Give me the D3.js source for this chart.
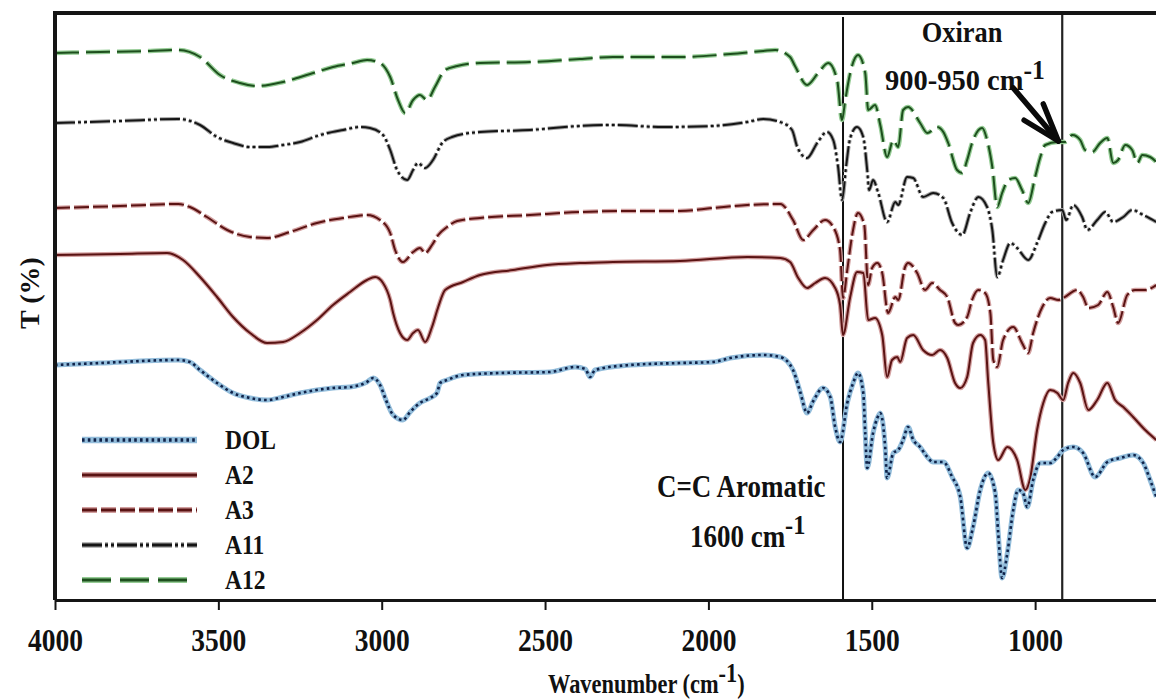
<!DOCTYPE html>
<html>
<head>
<meta charset="utf-8">
<script src="https://cdn.jsdelivr.net/npm/d3@7"></script>
<style>
  body { margin: 0; background: #fff; }
  svg { display: block; }
  svg text { font-family: "Liberation Serif", "Times New Roman", Times, "DejaVu Serif", serif; }
</style>
</head>
<body>
<div id="chart"></div>
<script>
// FTIR spectra, wavenumber (cm-1) vs transmittance (offset, arbitrary %)
const dolWn = [4000,3862,3623,3587,3556,3504,3455,3403,3351,3302,3250,3149,3097,3045,3026,3005,2987,2965,2935,2913,2883,2852,2831,2821,2800,2751,2638,2485,2408,2377,2362,2347,2240,2087,1986,1933,1832,1780,1741,1719,1698,1679,1649,1627,1612,1597,1575,1557,1542,1526,1520,1514,1496,1483,1474,1459,1453,1434,1419,1404,1389,1373,1352,1330,1312,1281,1254,1229,1208,1190,1168,1144,1122,1113,1101,1085,1067,1052,1037,1024,1006,984,954,932,914,883,853,816,779,739,700,669,648,629];
const dolT = [47,47.4,48,47.6,46,43.4,41.4,40.4,40,40.6,41.4,42.4,42.6,43.6,44.4,43,40,37,36,37.6,39.4,40.4,41.4,43.4,44,45,45.4,45.6,46.6,46.2,44.6,46,47,47.4,47.6,48.4,49,48.6,46,41.6,37.4,39.8,42.4,40.6,34.6,31.6,39.4,43.4,45.4,41.4,33.4,26.4,33.4,36.4,37.4,30.6,24.4,29.4,30,32,34.6,32,30.6,28.6,27.6,27.6,24.6,20.6,10.4,14.6,22,25.4,21.4,13.4,4.4,9.4,18,22,21.4,18.6,24,27.4,27.4,28.6,30,30.6,29.4,24.6,27.6,28.4,29,27.4,24,20.6];

const a2Wn = [4000,3801,3657,3608,3556,3504,3455,3403,3351,3302,3250,3198,3149,3097,3045,3020,2996,2974,2965,2944,2922,2904,2889,2867,2846,2827,2806,2751,2699,2598,2494,2393,2292,2087,1881,1780,1750,1725,1698,1673,1643,1612,1597,1588,1566,1545,1526,1511,1490,1468,1453,1438,1422,1413,1392,1373,1343,1315,1291,1269,1245,1229,1208,1190,1168,1153,1144,1128,1113,1085,1055,1030,1015,994,975,954,932,914,899,883,862,837,810,779,755,730,700,663,629];
const a2T = [69,69.2,69.4,68,64.6,60.6,56.6,53.4,51.4,51.6,53.4,56,59,61.6,64,64.6,63.4,60,57.4,53.4,52,53.4,54,51.6,54.6,58.6,62,63.6,65,66,67,67.4,67.6,67.8,68.6,68.4,67.6,64.4,62.4,63.4,64.4,62.4,59,53,60.6,65.6,65.4,56,56.4,53,44.6,48,48.6,47.6,52.4,53,50,49,50,48.4,43.4,42.4,44.6,51.4,53,52,44,31.4,28,30.6,28,22,24.4,34,39.4,42,41.4,40,43.4,45.4,43.4,38,40,43.4,40,38.6,36.6,34,32];

const a3Wn = [4000,3801,3623,3587,3535,3473,3403,3351,3281,3198,3118,3045,3005,2974,2959,2935,2904,2883,2867,2846,2827,2800,2769,2699,2546,2393,2240,2087,1986,1881,1780,1741,1710,1679,1643,1618,1597,1588,1575,1560,1542,1523,1511,1499,1483,1468,1450,1428,1419,1398,1389,1361,1337,1315,1291,1269,1245,1235,1208,1193,1174,1153,1137,1128,1116,1098,1067,1040,1021,1006,978,954,929,914,871,853,837,807,779,761,746,718,694,663,629];
const a3T = [78.4,78.8,79.2,78.6,76.6,74,72.6,72.4,73.6,75.4,76.4,77,76,73.4,70,67.6,69.6,70.4,69.4,71,73,74.6,75.8,76.4,77,77.6,77.8,77.8,78.4,79,79.2,76,72,74,76,74.6,70,60.4,66,73,77.4,75,63,66.4,67.4,65.4,57.4,60.6,60,66.6,67.4,65.4,62,63.4,62,60.6,55.4,55,56.6,60,62,61.4,57.4,48,46.6,52,54.6,51.4,49.4,53.4,58.6,60.4,60,60.4,62,60.6,58.4,59,61.6,58.6,55.4,61,62,62,63];

const a11Wn = [4000,3801,3623,3556,3504,3455,3403,3351,3302,3250,3189,3118,3066,3036,2996,2974,2953,2922,2904,2889,2867,2843,2815,2785,2699,2546,2393,2292,2139,1986,1881,1832,1780,1744,1728,1698,1667,1637,1618,1603,1591,1578,1566,1545,1526,1514,1508,1496,1480,1453,1428,1419,1392,1373,1343,1312,1281,1254,1223,1199,1174,1147,1131,1116,1098,1076,1055,1021,994,969,948,917,905,883,856,840,810,785,761,730,703,669,629];
const a11T = [95.4,95.8,96.2,95,92.6,91.4,90.6,90.6,91,91.6,93,94,94.6,94.4,93,90,86,84,86,87.4,86.4,88,91.4,92.6,93.6,94,94.8,95,94.6,94.8,95.6,96.2,95.6,94,90.6,88.4,91.4,93.6,92,86.6,80,87,92.4,94.6,92.6,86,82,84,81.4,75.6,79.6,79,84.6,84.4,80.6,81.4,80.4,75.4,73,77.4,80.6,78.6,74,64.6,68,71.4,70.4,68,71.4,75.4,77.6,78,76,79,76.6,74,76,77.6,75.6,76.6,78,77,75.6];

const a12Wn = [4000,3862,3709,3623,3556,3495,3434,3379,3302,3219,3149,3088,3045,3005,2974,2950,2928,2904,2883,2861,2837,2806,2769,2699,2546,2393,2292,2087,1933,1832,1796,1750,1735,1698,1664,1633,1606,1591,1581,1566,1542,1520,1511,1490,1474,1453,1434,1419,1404,1389,1352,1330,1300,1281,1266,1239,1223,1208,1193,1162,1147,1131,1116,1101,1082,1061,1040,1021,1000,984,969,932,908,886,862,847,825,801,779,761,746,724,703,687,672,648,629];
const a12T = [109.4,109.6,109.8,110,108.6,105,103.4,102.8,103.6,105.2,106.6,107.4,108,107.4,104.6,100,97.4,100,101,100,102.6,106,106.8,107.4,107.6,108.2,108.6,108.6,109.2,109.8,110,108.6,106.8,103,105.4,107.4,104,96,100,105.4,109,105.4,98,99,95,88.6,92,90.6,98,98.6,95.4,93.4,94.6,93.6,91.4,86,85.4,88,91.4,94.4,92,86.6,78.6,81.4,84,84.4,82,79.4,84.6,88.6,91,91.6,91.6,93,92,90,89.6,91.4,92.4,87.4,88,91,90,87.4,89,88.6,87.6];

const seriesNames = ['DOL', 'A2', 'A3', 'A11', 'A12'];
const xTicks = [4000, 3500, 3000, 2500, 2000, 1500, 1000];
const markerWn = [1588, 917];

const series = [
    { name: 'DOL', values: d3.zip(dolWn, dolT) },
    { name: 'A2', values: d3.zip(a2Wn, a2T) },
    { name: 'A3', values: d3.zip(a3Wn, a3T) },
    { name: 'A11', values: d3.zip(a11Wn, a11T) },
    { name: 'A12', values: d3.zip(a12Wn, a12T) }
];

// line looks: light halo under a darker core
const styles = {
    DOL: { halo: '#93bddb', haloW: 5, haloDash: null, core: '#0f2249', coreW: 2.6, dash: '2.6,3.2' },
    A2:  { halo: '#d4a2a2', haloW: 4.5, haloDash: null, core: '#5a1313', coreW: 2, dash: null },
    A3:  { halo: '#d2a0a0', haloW: 4.5, haloDash: '15,4', core: '#5a1313', coreW: 2, dash: '15,4' },
    A11: { halo: '#a3a3a3', haloW: 4, haloDash: '20,3,3,3,3,3', core: '#151515', coreW: 2, dash: '20,3,3,3,3,3' },
    A12: { halo: '#95cc95', haloW: 4.5, haloDash: '24,7', core: '#1d4f1d', coreW: 2, dash: '24,7' }
};

const width = 1156, height = 700;

const x = d3.scaleLinear().domain([4000, 630]).range([55, 1156]);
const y = d3.scaleLinear().domain([0, 117.4]).range([600, 13]);

const svg = d3.select('#chart').append('svg')
    .attr('width', width)
    .attr('height', height);

svg.append('clipPath').attr('id', 'plot-clip')
    .append('rect')
    .attr('x', x(4000)).attr('y', y(117.4))
    .attr('width', x(630) - x(4000)).attr('height', y(0) - y(117.4));

// marker lines for C=C aromatic and oxiran
svg.append('line')
    .attr('x1', x(markerWn[0])).attr('x2', x(markerWn[0]))
    .attr('y1', 17).attr('y2', y(0))
    .attr('stroke', '#111').attr('stroke-width', 2);
svg.append('line')
    .attr('x1', x(markerWn[1])).attr('x2', x(markerWn[1]))
    .attr('y1', y(117.4)).attr('y2', y(0))
    .attr('stroke', '#222').attr('stroke-width', 2.2);

const line = d3.line()
    .x(d => x(d[0]))
    .y(d => y(d[1]))
    .curve(d3.curveMonotoneX);

const plot = svg.append('g').attr('clip-path', 'url(#plot-clip)');

// draw back to front
series.slice().reverse().forEach(s => {
    const st = styles[s.name];
    plot.append('path')
        .datum(s.values)
        .attr('fill', 'none')
        .attr('stroke', st.halo)
        .attr('stroke-width', st.haloW)
        .attr('stroke-dasharray', st.haloDash)
        .attr('stroke-linejoin', 'round')
        .attr('d', line);
    plot.append('path')
        .datum(s.values)
        .attr('fill', 'none')
        .attr('stroke', st.core)
        .attr('stroke-width', st.coreW)
        .attr('stroke-dasharray', st.dash)
        .attr('stroke-linejoin', 'round')
        .attr('d', line);
});

// frame: top and left
svg.append('line')
    .attr('x1', x(4000) - 2).attr('x2', width)
    .attr('y1', y(117.4)).attr('y2', y(117.4))
    .attr('stroke', '#151515').attr('stroke-width', 4);
svg.append('line')
    .attr('x1', x(4000)).attr('x2', x(4000))
    .attr('y1', y(117.4)).attr('y2', y(0))
    .attr('stroke', '#151515').attr('stroke-width', 4);

// bottom axis
const xAxis = d3.axisBottom(x)
    .tickValues(xTicks)
    .tickSize(10)
    .tickSizeOuter(0)
    .tickFormat(d3.format('d'));

const gx = svg.append('g')
    .attr('transform', `translate(0,${y(0)})`)
    .call(xAxis)
    .attr('font-family', null);
gx.select('.domain').attr('stroke', '#151515').attr('stroke-width', 3);
gx.selectAll('.tick line').attr('stroke', '#151515').attr('stroke-width', 2);
gx.selectAll('.tick text')
    .attr('y', 51)
    .attr('dy', null)
    .attr('fill', '#111')
    .attr('font-weight', 'bold')
    .attr('font-size', 32)
    .attr('transform', 'scale(0.86,1)');

// text helper: parts = [[text, isSuperscript], ...]
function addLabel(px, py, parts, opts) {
    const o = Object.assign({ size: 30, sx: 0.86, anchor: 'start', weight: 'bold', supSize: 26, supUp: 12 }, opts);
    const t = svg.append('g')
        .attr('transform', `translate(${px},${py}) scale(${o.sx},1)`)
        .append('text')
        .attr('text-anchor', o.anchor)
        .attr('font-weight', o.weight)
        .attr('font-size', o.size)
        .attr('fill', '#111');
    let raised = false;
    parts.forEach(([str, sup]) => {
        const ts = t.append('tspan').text(str);
        if (sup && !raised) { ts.attr('dy', -o.supUp).attr('font-size', o.supSize); raised = true; }
        else if (!sup && raised) { ts.attr('dy', o.supUp); raised = false; }
    });
    return t;
}

// axis titles
addLabel(548, 693, [['Wavenumber (cm', false], ['-1', true], [')', false]],
    { size: 28, sx: 0.8, supSize: 28, supUp: 11 });
svg.append('text')
    .attr('transform', 'translate(39,293) rotate(-90)')
    .attr('text-anchor', 'middle')
    .attr('font-weight', 'bold')
    .attr('font-size', 28)
    .attr('fill', '#111')
    .text('T (%)');

// annotations
addLabel(962, 42, [['Oxiran', false]], { size: 30, sx: 0.88, anchor: 'middle' });
addLabel(885, 90, [['900-950 cm', false], ['-1', true]], { size: 30, sx: 0.95, supSize: 27, supUp: 11 });
addLabel(657, 497, [['C=C Aromatic', false]], { size: 31, sx: 0.87 });
addLabel(690, 547, [['1600 cm', false], ['-1', true]], { size: 31, sx: 0.87, supSize: 28, supUp: 13 });

// arrow pointing at the oxiran band
const tip = [x(929), y(91.8)];
const tail = [x(1067), y(102.4)];
const ang = Math.atan2(tail[1] - tip[1], tail[0] - tip[0]);
const arrow = svg.append('g')
    .attr('stroke', '#0a0a0a')
    .attr('stroke-width', 5.5)
    .attr('stroke-linecap', 'round');
arrow.append('line')
    .attr('x1', tail[0]).attr('y1', tail[1])
    .attr('x2', tip[0]).attr('y2', tip[1]);
[-0.32, 0.32].forEach(da => {
    arrow.append('line')
        .attr('x1', tip[0] + 40 * Math.cos(ang + da))
        .attr('y1', tip[1] + 40 * Math.sin(ang + da))
        .attr('x2', tip[0]).attr('y2', tip[1]);
});

// legend
const legend = svg.append('g');
seriesNames.forEach((name, i) => {
    const st = styles[name];
    const ly = 440 + i * 35;
    const x2 = name === 'A12' ? 187 : 197;
    legend.append('line')
        .attr('x1', 82).attr('x2', x2).attr('y1', ly).attr('y2', ly)
        .attr('stroke', st.halo).attr('stroke-width', st.haloW + 1.5)
        .attr('stroke-dasharray', name === 'A12' ? '29,9' : st.haloDash);
    legend.append('line')
        .attr('x1', 82).attr('x2', x2).attr('y1', ly).attr('y2', ly)
        .attr('stroke', st.core).attr('stroke-width', st.coreW + 1)
        .attr('stroke-dasharray', name === 'A12' ? '29,9' : st.dash);
    addLabel(225, ly + 9, [[name, false]], { size: 28, sx: 0.84 });
});
</script>
</body>
</html>
